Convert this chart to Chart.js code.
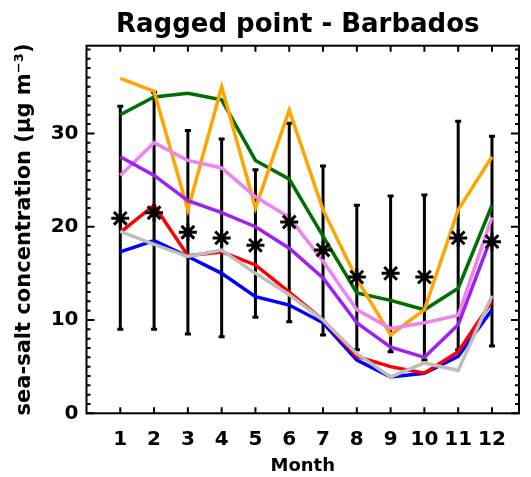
<!DOCTYPE html>
<html>
<head>
<meta charset="utf-8">
<script src="https://cdn.jsdelivr.net/npm/chart.js@4"></script>
<style>
  html, body { margin: 0; padding: 0; background: #fff; }
</style>
</head>
<body>
<canvas id="chart" width="531" height="477"></canvas>
<script>
const months = [1, 2, 3, 4, 5, 6, 7, 8, 9, 10, 11, 12];
const yTicks = [0, 10, 20, 30];

// observations: mean (asterisks) and range (error bars)
const obsMean = [20.9, 21.5, 19.4, 18.8, 18.0, 20.5, 17.5, 14.6, 15.0, 14.6, 18.8, 18.4];
const obsHigh = [32.9, 34.4, 30.3, 29.4, 26.1, 31.1, 26.5, 22.3, 23.3, 23.4, 31.3, 29.7];
const obsLow = [9.0, 9.0, 8.5, 8.2, 10.3, 9.8, 8.4, 6.8, 6.6, 5.7, 6.8, 7.2];

// model lines
const green = [32.0, 33.9, 34.3, 33.6, 27.1, 25.1, 19.0, 12.9, 12.1, 11.1, 13.4, 22.3];
const orange = [35.9, 34.5, 21.8, 35.0, 22.0, 32.5, 21.8, 14.4, 8.4, 11.1, 21.8, 27.5];
const violet = [25.5, 29.0, 27.1, 26.3, 23.2, 21.0, 16.3, 11.1, 9.1, 9.7, 10.5, 21.0];
const purple = [27.5, 25.5, 22.8, 21.5, 20.0, 17.7, 14.5, 9.7, 7.1, 6.0, 9.5, 19.1];
const blue = [17.3, 18.5, 16.8, 15.0, 12.5, 11.6, 9.7, 5.7, 3.9, 4.3, 6.1, 11.1];
const red = [19.4, 22.3, 16.9, 17.3, 15.9, 13.0, 10.0, 6.1, 5.0, 4.3, 6.6, 12.0];
const gray = [19.5, 18.1, 16.8, 17.5, 15.0, 12.7, 10.0, 6.4, 3.9, 5.4, 4.6, 12.6];

const TITLE = "Ragged point - Barbados";
const FONT = "'DejaVu Sans', sans-serif";

function pts(vals) {
  return months.map((m, i) => ({ x: m, y: vals[i] }));
}

// error bars as one broken line: low, high, gap
const errData = [];
months.forEach((m, i) => {
  errData.push({ x: m, y: obsLow[i] }, { x: m, y: obsHigh[i] }, { x: m, y: null });
});

function modelLine(vals, color, order) {
  return {
    data: pts(vals),
    borderColor: color,
    borderWidth: 3.5,
    pointRadius: 0,
    tension: 0,
    order: order,
  };
}

// box round the plot with inward ticks on all four sides, title over the plot
const boxTicks = {
  id: "boxTicks",
  afterDraw(chart) {
    const { ctx, chartArea: a, scales: { x, y } } = chart;
    ctx.save();
    ctx.strokeStyle = "#000";
    ctx.lineWidth = 2;
    ctx.strokeRect(a.left, a.top, a.right - a.left, a.bottom - a.top);
    ctx.beginPath();
    months.forEach((m) => {
      const px = x.getPixelForValue(m);
      ctx.moveTo(px, a.bottom);
      ctx.lineTo(px, a.bottom - 6);
      ctx.moveTo(px, a.top);
      ctx.lineTo(px, a.top + 6);
    });
    for (let v = 0; v <= y.max; v += 1) {
      const py = y.getPixelForValue(v);
      const len = v % 10 === 0 ? 8 : 4;
      ctx.moveTo(a.left, py);
      ctx.lineTo(a.left + len, py);
      ctx.moveTo(a.right, py);
      ctx.lineTo(a.right - len, py);
    }
    ctx.stroke();

    ctx.fillStyle = "#000";
    ctx.font = "bold 26px " + FONT;
    ctx.textAlign = "center";
    ctx.textBaseline = "alphabetic";
    ctx.fillText(TITLE, (a.left + a.right) / 2 - 5, 32);
    ctx.restore();
  },
};

new Chart(document.getElementById("chart").getContext("2d"), {
  type: "line",
  data: {
    datasets: [
      {
        data: pts(obsMean),
        showLine: false,
        pointStyle: "star",
        pointRadius: 9,
        pointBorderWidth: 3,
        pointBorderColor: "#000",
        pointBackgroundColor: "#000",
        order: 0,
      },
      modelLine(gray, "#bebebe", 1),
      modelLine(red, "#ff0000", 2),
      modelLine(blue, "#0000ff", 3),
      modelLine(purple, "#a020f0", 4),
      modelLine(violet, "#ee82ee", 5),
      modelLine(orange, "#ffa500", 6),
      modelLine(green, "#006e00", 7),
      {
        data: errData,
        borderColor: "#000",
        borderWidth: 3,
        spanGaps: false,
        pointStyle: "line",
        pointRadius: 3,
        pointBorderWidth: 3,
        pointBorderColor: "#000",
        order: 10,
      },
    ],
  },
  options: {
    responsive: false,
    animation: false,
    layout: { padding: { left: 0, right: 4.5, top: 45.7, bottom: 0 } },
    plugins: {
      legend: { display: false },
      tooltip: { enabled: false },
      title: { display: false },
    },
    scales: {
      x: {
        type: "linear",
        min: 0,
        max: 12.8,
        grid: { display: false, drawTicks: false },
        border: { display: false },
        afterBuildTicks: (s) => { s.ticks = months.map((v) => ({ value: v })); },
        afterFit: (s) => { s.height = 63.7; },
        ticks: {
          color: "#000",
          font: { family: FONT, size: 20, weight: "bold" },
          padding: 14,
          maxRotation: 0,
          autoSkip: false,
        },
        title: {
          display: true,
          text: "Month",
          color: "#000",
          font: { family: FONT, size: 18, weight: "bold" },
          padding: { top: 0, bottom: 0 },
        },
      },
      y: {
        min: 0,
        max: 39.4,
        grid: { display: false, drawTicks: false },
        border: { display: false },
        afterBuildTicks: (s) => { s.ticks = yTicks.map((v) => ({ value: v })); },
        afterFit: (s) => { s.width = 86.5; },
        ticks: {
          color: "#000",
          font: { family: FONT, size: 20, weight: "bold" },
          padding: 8,
        },
        title: {
          display: true,
          text: "sea-salt concentration (\u03bcg m\u207b\u00b3)",
          color: "#000",
          font: { family: FONT, size: 21, weight: "bold" },
          padding: { top: 12, bottom: 0 },
        },
      },
    },
  },
  plugins: [boxTicks],
});
</script>
</body>
</html>
